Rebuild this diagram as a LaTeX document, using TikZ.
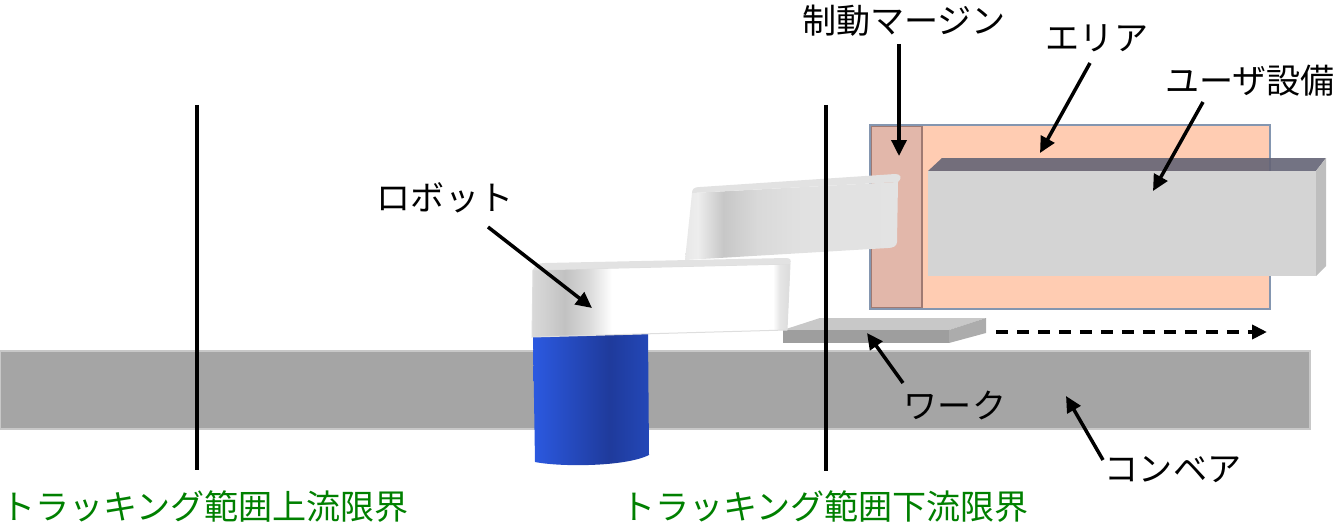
\documentclass[tikz,border=0pt]{standalone}
\usepackage{fontspec}
\newfontfamily\jpfont{Noto Sans CJK JP}
\usetikzlibrary{arrows.meta,positioning}

\definecolor{belt}{RGB}{165,165,165}
\definecolor{beltedge}{RGB}{200,200,200}
\definecolor{areafill}{RGB}{255,204,178}
\definecolor{areaedge}{RGB}{132,150,176}
\definecolor{marginfill}{RGB}{226,183,170}
\definecolor{marginedge}{RGB}{160,122,114}
\definecolor{equipfront}{RGB}{212,212,212}
\definecolor{equipside}{RGB}{190,190,190}
\definecolor{equiptop}{RGB}{100,100,118}
\definecolor{worktop}{RGB}{200,200,200}
\definecolor{workfront}{RGB}{158,158,158}
\definecolor{workside}{RGB}{172,172,172}
\definecolor{armtop}{RGB}{226,226,226}
\definecolor{armedge}{RGB}{222,222,222}
\definecolor{limitgreen}{RGB}{0,128,0}

\pgfdeclarehorizontalshading{baseshade}{100bp}{rgb(0bp)=(0.17,0.35,0.88); rgb(25bp)=(0.17,0.35,0.88); rgb(58bp)=(0.12,0.23,0.61); rgb(75bp)=(0.14,0.28,0.72); rgb(100bp)=(0.14,0.28,0.72)}
\pgfdeclarehorizontalshading{lowerarm}{100bp}{rgb(0bp)=(0.85,0.85,0.85); rgb(25bp)=(0.85,0.85,0.85); rgb(27.5bp)=(0.82,0.82,0.82); rgb(31.3bp)=(0.76,0.76,0.76); rgb(36.2bp)=(0.86,0.86,0.86); rgb(39.6bp)=(0.97,0.97,0.97); rgb(40.4bp)=(1,1,1); rgb(71.7bp)=(1,1,1); rgb(73bp)=(0.9,0.9,0.9); rgb(75bp)=(0.86,0.86,0.86); rgb(100bp)=(0.86,0.86,0.86)}
\pgfdeclarehorizontalshading{upperarm}{100bp}{rgb(0bp)=(0.91,0.91,0.91); rgb(25bp)=(0.91,0.91,0.91); rgb(28bp)=(0.93,0.93,0.93); rgb(34bp)=(0.78,0.78,0.78); rgb(42bp)=(0.85,0.85,0.85); rgb(51bp)=(0.88,0.88,0.88); rgb(75bp)=(0.89,0.89,0.89); rgb(100bp)=(0.89,0.89,0.89)}

\begin{document}
\begin{tikzpicture}[x=0.02cm, y=-0.02cm,
    label/.style={font=\jpfont\fontsize{19.4pt}{23pt}\selectfont, inner sep=0pt},
    limitlabel/.style={label, text=limitgreen},
    limitline/.style={line width=0.066cm},
    callout/.style={line width=0.07cm, -{Triangle[length=0.32cm,width=0.3cm]}},
    flow/.style={line width=0.08cm, dash pattern=on 0.24cm off 0.18cm, -{Triangle[length=0.3cm,width=0.28cm]}}]
\useasboundingbox (0,0) rectangle (1339,527);

% Conveyor
\draw[beltedge, fill=belt, line width=0.03cm] (0,351) rectangle (1310,429);

% Area with braking margin
\fill[areafill] (870,125) rectangle (1270,309);
\draw[marginedge, fill=marginfill, line width=0.05cm] (871,126) rectangle (922,308);
\draw[areaedge, line width=0.05cm] (870,125) rectangle (1270,309);

% User equipment
\fill[equiptop, opacity=0.9] (928,171) -- (942,158) -- (1326,158) -- (1316,171) -- cycle;
\fill[equipfront] (928,171) rectangle (1316,276);
\fill[equipside] (1316,171) -- (1326,158) -- (1326,266) -- (1316,276) -- cycle;

% Work
\fill[worktop] (783,330) -- (820,318) -- (986,318) -- (949,330) -- cycle;
\fill[workfront] (783,330) rectangle (949,343);
\fill[workside] (949,330) -- (986,318) -- (986,333) -- (949,343) -- cycle;

% Robot
\shade[shading=baseshade] (533,334) -- (648,332) -- (649,455) .. controls (625,467) and (560,467) .. (535,462) -- cycle;
\shade[shading=lowerarm, draw=armedge, line width=0.02cm] (533,270) -- (790,264) -- (787,330) -- (532,337) -- cycle;
\fill[armtop] (533,270) .. controls (535,265) and (538,263) .. (545,263) -- (786,258) .. controls (790,258) and (792,260) .. (790,264) -- cycle;
\shade[shading=upperarm] (692,193) -- (898,182) -- (897,242) .. controls (897,246) and (893,248) .. (888,248) -- (685,260) -- cycle;
\fill[armtop] (692,193) .. controls (692,189) and (694,187) .. (700,187) -- (895,174) .. controls (900,174) and (903,177) .. (898,182) -- cycle;

% Tracking limits
\draw[limitline] (197,105) -- (197,470);
\draw[limitline] (826,105) -- (826,471);
\node[limitlabel] (upstream) at (205,507) {トラッキング範囲上流限界};
\node[limitlabel] (downstream) at (825,507) {トラッキング範囲下流限界};

% Flow direction
\coordinate (flowstart) at (996,332);
\coordinate (flowend) at (1267,332);
\draw[flow] (flowstart) -- (flowend);

% Labels
\node[label] (marginlabel) at (904,21) {制動マージン};
\node[label] (arealabel) at (1097,38) {エリア};
\node[label] (equiplabel) at (1250,81) {ユーザ設備};
\node[label] (robotlabel) at (445,198) {ロボット};
\node[label] (worklabel) at (955,405) {ワーク};
\node[label] (beltlabel) at (1173,470) {コンベア};

% Callouts
\coordinate (margintail) at (899,44);   \coordinate (margintip) at (899,156);
\coordinate (areatail) at (1090,63);    \coordinate (areatip) at (1040,153);
\coordinate (equiptail) at (1203,102);  \coordinate (equiptip) at (1153,191);
\coordinate (robottail) at (488,227);   \coordinate (robottip) at (592,308);
\coordinate (worktail) at (903,383);    \coordinate (worktip) at (867,333);
\coordinate (belttail) at (1103,460);   \coordinate (belttip) at (1066,396);
\foreach \part in {margin,area,equip,robot,work,belt}
    \draw[callout] (\part tail) -- (\part tip);

\end{tikzpicture}
\end{document}
